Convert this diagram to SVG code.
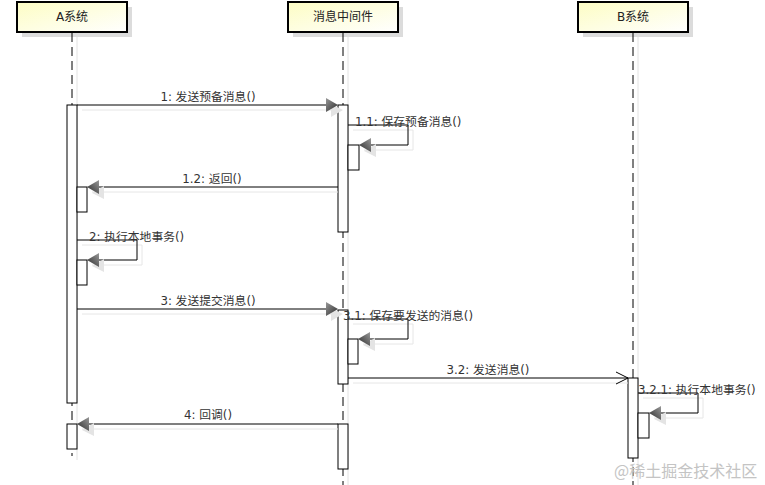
<svg xmlns="http://www.w3.org/2000/svg" width="765" height="485" viewBox="0 0 765 485">
<defs>
<linearGradient id="hdr" x1="0" y1="0" x2="1" y2="1">
<stop offset="0" stop-color="#fdfdc4"/>
<stop offset="1" stop-color="#ffffff"/>
</linearGradient>
<linearGradient id="arrR" x1="0" y1="0" x2="1" y2="1">
<stop offset="0" stop-color="#999999"/>
<stop offset="1" stop-color="#2a2a2a"/>
</linearGradient>
<linearGradient id="arrL" x1="1" y1="0" x2="0" y2="1">
<stop offset="0" stop-color="#999999"/>
<stop offset="1" stop-color="#2a2a2a"/>
</linearGradient>
</defs>
<style>
.hdr{fill:url(#hdr);stroke:#000;stroke-width:2}
.hsh{fill:#dcdcdc}
.htx{font-family:"DejaVu Sans","Noto Sans CJK SC",sans-serif;font-size:12px;fill:#222;text-anchor:middle}
.life{stroke:#000;stroke-width:1;stroke-dasharray:9,5;fill:none}
.lsh{stroke:#e2e2e2;stroke-width:1;fill:none}
.act{fill:#fff;stroke:#000;stroke-width:1}
.msg{stroke:#000;stroke-width:1;fill:none}
.msh{stroke:#e6e6e6;stroke-width:1;fill:none}
.lbl{font-family:"DejaVu Sans","Noto Sans CJK SC",sans-serif;font-size:11.8px;fill:#333}
.mid{text-anchor:middle}
.ahR{fill:url(#arrR);stroke:none}
.ahL{fill:url(#arrL);stroke:none}
.ahs{fill:#e4e4e4}
.wm{font-family:"Noto Sans CJK SC",sans-serif;font-size:16px;fill:#c4c4c4}
</style>

<g id="node-A">
<rect class="hsh" x="22" y="7" width="110" height="30"/>
<rect class="hdr" x="17" y="2" width="110" height="30"/>
<text class="htx" x="72" y="21">A系统</text>
<line class="lsh" x1="77" y1="37" x2="77" y2="460"/>
<line class="life" x1="72" y1="33" x2="72" y2="456"/>
<rect class="act" x="67" y="105" width="10" height="298"/>
<rect class="act" x="77" y="187" width="10" height="25"/>
<rect class="act" x="77" y="260" width="10" height="25"/>
<rect class="act" x="67" y="424" width="10" height="25"/>
</g>

<g id="node-MQ">
<rect class="hsh" x="293" y="7" width="110" height="30"/>
<rect class="hdr" x="288" y="2" width="110" height="30"/>
<text class="htx" x="343" y="21">消息中间件</text>
<line class="lsh" x1="348" y1="37" x2="348" y2="485"/>
<line class="life" x1="343" y1="33" x2="343" y2="485"/>
<rect class="act" x="338" y="105" width="10" height="127"/>
<rect class="act" x="348" y="145" width="11" height="25"/>
<rect class="act" x="338" y="310" width="10" height="74"/>
<rect class="act" x="348" y="339" width="10" height="25"/>
<rect class="act" x="338" y="424" width="10" height="45"/>
</g>

<g id="node-B">
<rect class="hsh" x="583" y="7" width="110" height="30"/>
<rect class="hdr" x="578" y="2" width="110" height="30"/>
<text class="htx" x="633" y="21">B系统</text>
<line class="lsh" x1="638" y1="37" x2="638" y2="485"/>
<line class="life" x1="633" y1="33" x2="633" y2="485"/>
<rect class="act" x="628" y="378" width="10" height="80"/>
<rect class="act" x="638" y="413" width="11" height="25"/>
</g>

<g id="connectors">
<!-- 1 -->
<line class="msh" x1="82" y1="110" x2="338" y2="110"/>
<line class="msg" x1="77" y1="105" x2="330" y2="105"/>
<polygon class="ahs" points="331,104 343,110 331,117"/>
<polygon class="ahR" points="326,98 338,105 326,112"/>
<text class="lbl mid" x="208" y="101">1: 发送预备消息()</text>
<!-- 1.1 -->
<polyline class="msh" points="353,130 413,130 413,150 364,150"/>
<polyline class="msg" points="348,125 408,125 408,145 367,145"/>
<polygon class="ahs" points="364,151 376,144 376,157"/>
<polygon class="ahL" points="359,145 371,138 371,152"/>
<text class="lbl" x="355" y="126">1.1: 保存预备消息()</text>
<!-- 1.2 -->
<line class="msh" x1="92" y1="192" x2="338" y2="192"/>
<line class="msg" x1="338" y1="187" x2="95" y2="187"/>
<polygon class="ahs" points="92,193 104,186 104,199"/>
<polygon class="ahL" points="87,187 99,180 99,194"/>
<text class="lbl mid" x="212" y="183">1.2: 返回()</text>
<!-- 2 -->
<polyline class="msh" points="82,245 142,245 142,265 92,265"/>
<polyline class="msg" points="77,240 137,240 137,260 95,260"/>
<polygon class="ahs" points="92,266 104,259 104,272"/>
<polygon class="ahL" points="87,260 99,253 99,267"/>
<text class="lbl" x="89" y="241">2: 执行本地事务()</text>
<!-- 3 -->
<line class="msh" x1="82" y1="314" x2="338" y2="314"/>
<line class="msg" x1="77" y1="309" x2="330" y2="309"/>
<polygon class="ahs" points="331,308 343,314 331,321"/>
<polygon class="ahR" points="326,302 338,309 326,316"/>
<text class="lbl mid" x="208" y="305">3: 发送提交消息()</text>
<!-- 3.1 -->
<polyline class="msh" points="353,324 413,324 413,344 363,344"/>
<polyline class="msg" points="348,319 408,319 408,339 366,339"/>
<polygon class="ahs" points="363,345 375,338 375,351"/>
<polygon class="ahL" points="358,339 370,332 370,346"/>
<text class="lbl" x="343" y="320">3.1: 保存要发送的消息()</text>
<!-- 3.2 -->
<line class="msh" x1="353" y1="383" x2="628" y2="383"/>
<line class="msg" x1="348" y1="378" x2="628" y2="378"/>
<polyline class="msg" points="616,372 628,378 616,384"/>
<text class="lbl mid" x="488" y="374">3.2: 发送消息()</text>
<!-- 3.2.1 -->
<polyline class="msh" points="643,398 703,398 703,418 654,418"/>
<polyline class="msg" points="638,393 698,393 698,413 657,413"/>
<polygon class="ahs" points="654,419 666,412 666,425"/>
<polygon class="ahL" points="649,413 661,406 661,420"/>
<text class="lbl" x="638" y="394">3.2.1: 执行本地事务()</text>
<!-- 4 -->
<line class="msh" x1="82" y1="429" x2="338" y2="429"/>
<line class="msg" x1="338" y1="424" x2="85" y2="424"/>
<polygon class="ahs" points="82,430 94,423 94,436"/>
<polygon class="ahL" points="77,424 89,417 89,431"/>
<text class="lbl mid" x="208" y="419">4: 回调()</text>
</g>

<text class="wm" x="614" y="477">@稀土掘金技术社区</text>
</svg>
